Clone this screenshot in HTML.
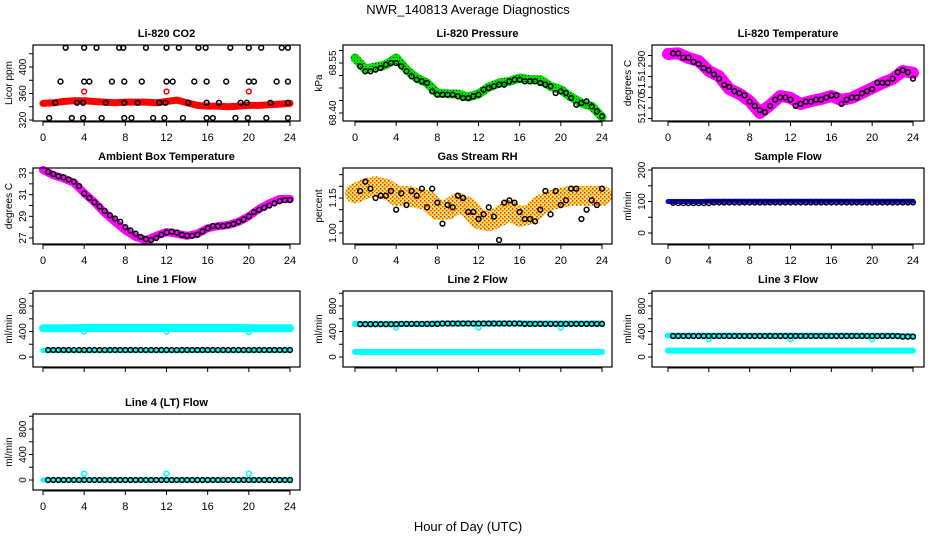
<!DOCTYPE html>
<html><head><meta charset="utf-8">
<style>
html,body{margin:0;padding:0;background:#fff;}
svg{display:block;font-family:"Liberation Sans",sans-serif;}
</style></head>
<body>
<svg id="chart" width="936" height="540" viewBox="0 0 936 540">
<defs>
<pattern id="rhpat" width="4" height="4" patternUnits="userSpaceOnUse"><rect width="4" height="4" fill="#ffd84a"/><rect width="1.5" height="1.5" fill="#f03000"/><rect x="2" y="2" width="1.5" height="1.5" fill="#f06000"/><rect x="2" y="0" width="1" height="1" fill="#fff"/></pattern>
<pattern id="prpat" width="3" height="3" patternUnits="userSpaceOnUse"><rect width="3" height="3" fill="#00e000"/><rect width="1" height="1" fill="#005000"/></pattern>
</defs>
<text x="468" y="14" text-anchor="middle" font-size="13">NWR_140813  Average Diagnostics</text>
<text x="468" y="531" text-anchor="middle" font-size="13">Hour of Day (UTC)</text>
</svg>
<script>
const HOURS=[0,1,2,3,4,5,6,7,8,9,10,11,12,13,14,15,16,17,18,19,20,21,22,23,24];
const HALF=[0.5,1,1.5,2,2.5,3,3.5,4,4.5,5,5.5,6,6.5,7,7.5,8,8.5,9,9.5,10,10.5,11,11.5,12,12.5,13,13.5,14,14.5,15,15.5,16,16.5,17,17.5,18,18.5,19,19.5,20,20.5,21,21.5,22,22.5,23,23.5,24];
const xTicks=[0,4,8,12,16,20,24];
// CO2
const co2Band=[345,346,348,349,349,348,347,346,347,347,347,346,348,350,346,342,341,341,340,341,342,342,343,344,345];
const co2RedT=[4,12,20];
const co2RedV=[363,363,363];
const co2BlackT=[2.2,4,5.2,7.4,7.8,10,12,13.2,15.1,15.8,18.2,20,21.2,23.2,23.8,1.7,4,4.5,6.7,7.9,9.6,12,12.6,14.7,15.9,17.8,20,20.5,22.7,23.8,1.2,3.3,3.9,6.1,7.9,9.2,11.3,11.9,14.1,15.9,17.1,19.2,19.8,22.1,23.8,0.6,2.8,3.9,5.7,7.9,8.6,10.7,11.8,13.6,15.9,16.5,18.7,19.9,21.7,23.8];
const co2BlackV=[429,429,429,429,429,429,429,429,429,429,429,429,429,429,429,378,378,378,378,378,378,378,378,378,378,378,378,378,378,378,346,346,346,346,346,346,346,346,346,346,346,346,346,346,346,323,323,323,323,323,323,323,323,323,323,323,323,323,323,323];
// Pressure
const presBand=[68.565,68.532,68.538,68.545,68.565,68.53,68.505,68.49,68.46,68.458,68.457,68.448,68.457,68.478,68.49,68.495,68.505,68.50,68.50,68.48,68.47,68.448,68.43,68.42,68.388];
const presBlack=[68.54,68.525,68.525,68.53,68.535,68.545,68.55,68.55,68.54,68.525,68.51,68.50,68.495,68.49,68.465,68.455,68.455,68.455,68.455,68.45,68.445,68.445,68.45,68.455,68.47,68.475,68.48,68.485,68.485,68.495,68.50,68.50,68.495,68.495,68.495,68.49,68.485,68.48,68.46,68.465,68.46,68.445,68.425,68.43,68.435,68.42,68.405,68.39];
// Li-820 temperature
const tempBand=[51.2957,51.296,51.2938,51.2924,51.2876,51.2852,51.279,51.2767,51.2733,51.2676,51.2714,51.2757,51.2748,51.2719,51.2733,51.2743,51.2757,51.2738,51.2748,51.2771,51.2795,51.2819,51.2838,51.2876,51.2867];
const tempBlack=[51.296,51.296,51.294,51.294,51.292,51.291,51.289,51.288,51.286,51.284,51.281,51.280,51.278,51.277,51.276,51.273,51.271,51.269,51.268,51.271,51.274,51.275,51.275,51.274,51.271,51.272,51.273,51.273,51.274,51.274,51.275,51.276,51.276,51.272,51.274,51.275,51.275,51.277,51.278,51.279,51.282,51.282,51.282,51.284,51.287,51.288,51.287,51.284];
// Ambient
const ambBand=[33.28,32.8,32.5,32.1,31.15,30.3,29.3,28.5,27.7,27.1,26.8,27.2,27.55,27.4,27.2,27.4,27.9,28.1,28.2,28.5,29.0,29.7,30.2,30.6,30.6];
const ambBlack=[33.1,32.9,32.7,32.6,32.4,32.2,31.8,31.1,30.7,30.3,29.9,29.5,29.1,28.8,28.5,28.0,27.7,27.4,27.1,26.9,26.8,27.0,27.3,27.5,27.6,27.5,27.3,27.2,27.2,27.3,27.6,27.9,28.1,28.1,28.1,28.2,28.3,28.5,28.7,29.0,29.4,29.6,29.8,30.0,30.2,30.4,30.5,30.5];
// Gas RH
const rhBand=[1.17,1.19,1.2,1.19,1.16,1.16,1.15,1.14,1.10,1.10,1.13,1.11,1.06,1.05,1.07,1.10,1.07,1.08,1.12,1.14,1.15,1.16,1.16,1.16,1.16];
const rhBlack=[1.18,1.22,1.19,1.15,1.16,1.16,1.18,1.10,1.17,1.12,1.18,1.16,1.19,1.11,1.19,1.13,1.04,1.12,1.11,1.16,1.15,1.09,1.09,1.06,1.08,1.11,1.07,0.97,1.13,1.14,1.13,1.09,1.06,1.06,1.05,1.10,1.18,1.08,1.18,1.12,1.14,1.19,1.19,1.06,1.10,1.14,1.12,1.19];
// Sample flow
const sfBand=[100,100,100,100,101,101,101,101,101,101,101,101,101,101,101,101,101,101,101,101,101,101,101,101,101];
const sfBlack=[96,95,95,95,95,95,95,95,97,97,97,97,97,97,97,97,97,97,97,97,97,97,97,97,97,97,97,97,97,97,97,97,97,97,97,97,97,97,97,97,97,97,97,97,97,97,97,97];
// Line flows
const l1Cyan=[450,450,450,450,455,455,455,455,455,455,455,455,455,455,455,455,455,455,455,455,450,450,450,450,450];
const l1CyanLow=[100,100,100,100,100,100,100,100,100,100,100,100,100,100,100,100,100,100,100,100,100,100,100,100,100];
const l1Black=[110,110,110,110,110,110,110,110,110,110,110,110,110,110,110,110,110,110,110,110,110,110,110,110,110,110,110,110,110,110,110,110,110,110,110,110,110,110,110,110,110,110,110,110,110,110,110,110];
const l2Cyan=[520,520,520,520,520,520,520,520,525,525,525,525,525,525,525,525,525,525,525,525,525,525,525,525,525];
const l2CyanLow=[80,80,80,80,80,80,80,80,80,80,80,80,80,80,80,80,80,80,80,80,80,80,80,80,80];
const l2Black=[515,515,515,515,515,515,515,515,520,520,520,520,520,520,520,520,525,525,525,525,525,525,525,525,525,525,525,525,525,525,525,525,520,520,520,520,520,520,520,520,520,520,520,520,520,520,520,520];
const l3Cyan=[335,335,335,335,335,335,335,335,335,335,335,335,335,335,335,335,335,335,335,335,335,335,335,330,325];
const l3CyanLow=[100,100,100,100,100,100,100,100,100,100,100,100,100,100,100,100,100,100,100,100,100,100,100,100,100];
const l3Black=[330,330,330,330,330,330,330,330,330,330,330,330,330,330,330,330,330,330,330,330,330,330,330,330,330,330,330,330,330,330,330,330,330,330,330,330,330,330,330,330,330,330,330,330,330,320,320,320];
const l4Cyan=[0,0,0,0,0,0,0,0,0,0,0,0,0,0,0,0,0,0,0,0,0,0,0,0,0];
const l4Black=[0,0,0,0,0,0,0,0,0,0,0,0,0,0,0,0,0,0,0,0,0,0,0,0,0,0,0,0,0,0,0,0,0,0,0,0,0,0,0,0,0,0,0,0,0,0,0,0];
const dipT=[4,12,20];
const l1Dip=[400,400,390];
const l2Dip=[460,460,460];
const l3Dip=[280,280,280];
const l4Dip=[100,100,100];

const NS='http://www.w3.org/2000/svg';
const svg=document.getElementById('chart');
function el(tag,attrs,parent){const e=document.createElementNS(NS,tag);for(const k in attrs)e.setAttribute(k,attrs[k]);(parent||svg).appendChild(e);return e;}
const COLS=[[33,300,43,290],[343,612,355,602],[652,924,668,913]];
const ROWS=[[45,121],[168,244],[291,367],[414,490]];

function panel(name,col,row,title,ylab,v0,p0,v1,p1,ticks,labels,showX){
  const [bl,br,x0,x24]=COLS[col];
  const [bt,bb]=ROWS[row];
  const g=el('g',{});
  
  
  const sx=t=>x0+(t/24)*(x24-x0);
  const yp0=bb-p0, yp1=bb-p1;
  const sy=v=>yp0+(v-v0)/(v1-v0)*(yp1-yp0);
  const t=el('text',{x:(bl+br)/2,y:bt-8,'text-anchor':'middle','font-size':11,'font-weight':'bold'},g);
  t.textContent=title;
  
  
  const yl=el('text',{x:0,y:0,'text-anchor':'middle','font-size':10,transform:`translate(${bl-21},${(bt+bb)/2}) rotate(-90)`},g);
  yl.textContent=ylab;
  
  
  const ya=el('g',{},g);
  
  
  ticks.forEach(v=>{const y=sy(v);el('line',{x1:bl-4,x2:bl,y1:y,y2:y,stroke:'#000','stroke-width':1},ya);});
  el('line',{x1:bl,x2:bl,y1:sy(ticks[0]),y2:sy(ticks[ticks.length-1]),stroke:'#000'},ya);
  labels.forEach(([v,s])=>{const y=sy(v);const tx=el('text',{x:0,y:0,'text-anchor':'middle','font-size':10,transform:`translate(${bl-7},${y}) rotate(-90)`},ya);tx.textContent=s;});
  const xa=el('g',{},g);
  
  
  el('line',{x1:sx(0),x2:sx(24),y1:bb+1,y2:bb+1,stroke:'#000'},xa);
  xTicks.forEach(v=>{const x=sx(v);el('line',{x1:x,x2:x,y1:bb,y2:bb+5,stroke:'#000'},xa);
    if(showX){const tx=el('text',{x:x,y:bb+20,'text-anchor':'middle','font-size':11},xa);tx.textContent=v;}});
  const plot=el('g',{},g);
  
  
  const box=el('rect',{x:bl,y:bt,width:br-bl,height:bb-bt,fill:'none',stroke:'#000','stroke-width':1.2},g);
  
  
  return {sx,sy,g:plot};
}
function band(P,ts,vs,color,w,nm){
  const d=ts.map((t,i)=>(i?'L':'M')+P.sx(t).toFixed(1)+','+P.sy(vs[i]).toFixed(1)).join('');
  const p=el('path',{d:d,fill:'none',stroke:color,'stroke-width':w,'stroke-linejoin':'round','stroke-linecap':'round'},P.g);
  
  
}
function pts(P,ts,vs,color,nm,r){
  const gg=el('g',{},P.g);
  
  
  ts.forEach((t,i)=>{el('circle',{cx:P.sx(t),cy:P.sy(vs[i]),r:r||2.4,fill:'none',stroke:color,'stroke-width':1.5},gg);});
}

let P;
P=panel('co2',0,0,'Li-820 CO2','Licor ppm',320,1,400,54,[320,340,360,380,400,420],[[320,'320'],[360,'360'],[400,'400']],true);
band(P,HOURS,co2Band,'#ff0000',7,'co2-band');
pts(P,co2RedT,co2RedV,'#ff0000','co2-red-points');
pts(P,co2BlackT,co2BlackV,'#000','co2-black-points');

P=panel('pressure',1,0,'Li-820 Pressure','kPa',68.40,8,68.55,58,[68.40,68.4375,68.475,68.5125,68.55,68.5875],[[68.40,'68.40'],[68.55,'68.55']],true);
band(P,HOURS,presBand,'url(#prpat)',9,'pressure-band');
pts(P,HALF,presBlack,'#000','pressure-black-points');

P=panel('li820-temp',2,0,'Li-820 Temperature','degrees C',51.270,13,51.290,55,[51.265,51.270,51.275,51.280,51.285,51.290,51.295],[[51.270,'51.270'],[51.280,'51.'],[51.290,'51.290']],true);
band(P,HOURS,tempBand,'#ff00ff',12,'li820-temp-band');
pts(P,HALF,tempBlack,'#000','li820-temp-black-points');

P=panel('ambient',0,1,'Ambient Box Temperature','degrees C',27,6,33,71,[27,28,29,30,31,32,33],[[27,'27'],[29,'29'],[31,'31'],[33,'33']],true);
band(P,HOURS,ambBand,'#ff00ff',8,'ambient-band');
pts(P,HALF,ambBlack,'#000','ambient-black-points');

P=panel('gas-rh',1,1,'Gas Stream RH','percent',1.00,11,1.15,46,[1.00,1.05,1.10,1.15,1.20,1.25],[[1.00,'1.00'],[1.15,'1.15']],true);
band(P,HOURS,rhBand,'url(#rhpat)',20,'gas-rh-band');
pts(P,HALF,rhBlack,'#000','gas-rh-black-points');

P=panel('sample-flow',2,1,'Sample Flow','ml/min',0,11,200,74,[0,50,100,150,200],[[0,'0'],[100,'100'],[200,'200']],true);
band(P,HOURS,sfBand,'#0000ff',5,'sample-flow-band');
pts(P,HALF,sfBlack,'#000','sample-flow-black-points');

const flowTicks=[0,200,400,600,800,1000];
const flowLabels=[[0,'0'],[400,'400'],[800,'800']];
P=panel('line1-flow',0,2,'Line 1 Flow','ml/min',0,10,800,61,flowTicks,flowLabels,false);
band(P,HOURS,l1Cyan,'#00ffff',8,'line1-cyan-high');
band(P,HOURS,l1CyanLow,'#00ffff',5,'line1-cyan-low');
pts(P,dipT,l1Dip,'#00ffff','line1-cyan-dips');
pts(P,HALF,l1Black,'#000','line1-black-points');

P=panel('line2-flow',1,2,'Line 2 Flow','ml/min',0,10,800,61,flowTicks,flowLabels,false);
band(P,HOURS,l2Cyan,'#00ffff',6,'line2-cyan-high');
band(P,HOURS,l2CyanLow,'#00ffff',6,'line2-cyan-low');
pts(P,dipT,l2Dip,'#00ffff','line2-cyan-dips');
pts(P,HALF,l2Black,'#000','line2-black-points');

P=panel('line3-flow',2,2,'Line 3 Flow','ml/min',0,10,800,61,flowTicks,flowLabels,false);
band(P,HOURS,l3Cyan,'#00ffff',6,'line3-cyan-high');
band(P,HOURS,l3CyanLow,'#00ffff',6,'line3-cyan-low');
pts(P,dipT,l3Dip,'#00ffff','line3-cyan-dips');
pts(P,HALF,l3Black,'#000','line3-black-points');

P=panel('line4-flow',0,3,'Line 4 (LT) Flow','ml/min',0,10,800,61,flowTicks,flowLabels,true);
band(P,HOURS,l4Cyan,'#00ffff',5,'line4-cyan');
pts(P,dipT,l4Dip,'#00ffff','line4-cyan-dips');
pts(P,HALF,l4Black,'#000','line4-black-points');
</script>
</body></html>
